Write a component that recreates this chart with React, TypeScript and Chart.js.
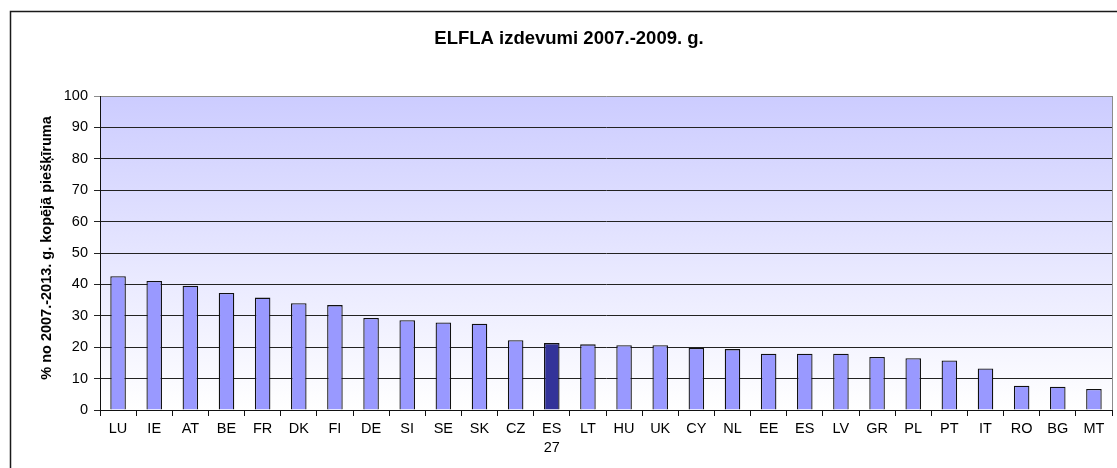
import { useEffect, useRef } from "react";
import { Chart, registerables } from "chart.js";

Chart.register(...registerables);

const chartTitle = "ELFLA izdevumi 2007.-2009. g.";
const yAxisTitle = "% no 2007.-2013. g. kopējā piešķīruma";
const categories: (string | string[])[] = [
  "LU", "IE", "AT", "BE", "FR", "DK", "FI", "DE", "SI", "SE", "SK", "CZ",
  ["ES", "27"], "LT", "HU", "UK", "CY", "NL", "EE", "ES", "LV", "GR", "PL",
  "PT", "IT", "RO", "BG", "MT",
];
const values = [
  42.6, 41.1, 39.6, 37.3, 35.8, 34.0, 33.4, 29.3, 28.6, 27.9, 27.5, 22.2,
  21.3, 20.9, 20.6, 20.6, 19.8, 19.4, 17.9, 17.9, 17.9, 16.9, 16.5, 15.8,
  13.2, 7.7, 7.4, 6.7,
];
const highlightIndex = 12;
const yTicksMin = 0;
const yTicksMax = 100;
const yTicksStep = 10;

const FONT = "'Liberation Sans', Arial, sans-serif";

const decorPlugin = {
  id: "decor",
  beforeDraw(chart: any) {
    const { ctx, chartArea } = chart;
    const { left, top, right, bottom } = chartArea;
    ctx.save();
    ctx.fillStyle = "#ffffff";
    ctx.fillRect(0, 0, chart.width, chart.height);
    const g = ctx.createLinearGradient(0, top, 0, bottom);
    g.addColorStop(0, "#CCCCFF");
    g.addColorStop(1, "#FFFFFF");
    ctx.fillStyle = g;
    ctx.fillRect(left, top, right - left, bottom - top);
    ctx.restore();
  },
  afterDraw(chart: any) {
    const { ctx, chartArea } = chart;
    const { top, right, bottom } = chartArea;
    ctx.save();
    // right border of plot area
    ctx.strokeStyle = "#8c8c8c";
    ctx.lineWidth = 1;
    ctx.beginPath();
    ctx.moveTo(Math.round(right) + 0.5, top);
    ctx.lineTo(Math.round(right) + 0.5, bottom);
    ctx.stroke();
    // outer frame
    ctx.strokeStyle = "#1a1a1a";
    ctx.lineWidth = 1.5;
    ctx.strokeRect(10.5, 11.5, 1300, 700);
    // title
    ctx.fillStyle = "#000";
    ctx.font = `bold 18.5px ${FONT}`;
    ctx.textAlign = "center";
    ctx.textBaseline = "middle";
    ctx.fillText(chartTitle, 569, 39);
    // y axis title
    ctx.translate(47, 248);
    ctx.rotate(-Math.PI / 2);
    ctx.font = `bold 14.5px ${FONT}`;
    ctx.fillText(yAxisTitle, 0, 0);
    ctx.restore();
  },
};

export default function App() {
  const ref = useRef<HTMLCanvasElement | null>(null);

  useEffect(() => {
    const canvas = ref.current;
    if (!canvas) return;
    const chart = new Chart(canvas, {
      type: "bar",
      data: {
        labels: categories,
        datasets: [
          {
            data: values,
            backgroundColor: values.map((_, i) => (i === highlightIndex ? "#333399" : "#9999FF")),
            borderColor: "#111111",
            borderWidth: 1.3,
            barPercentage: 0.43,
            categoryPercentage: 1,
          },
        ],
      },
      options: {
        responsive: false,
        animation: false,
        devicePixelRatio: 1,
        layout: { padding: { top: 96, left: 0, right: 5, bottom: 0 } },
        plugins: {
          legend: { display: false },
          title: { display: false },
          tooltip: { enabled: false },
        },
        scales: {
          x: {
            grid: {
              offset: true,
              drawOnChartArea: false,
              drawTicks: true,
              tickLength: 6,
              color: "#111",
            },
            border: { display: true, color: "#111", width: 1 },
            ticks: {
              color: "#000",
              font: { family: FONT, size: 14.5, lineHeight: 1.3 },
              padding: 4,
              maxRotation: 0,
              autoSkip: false,
            },
            afterFit: (s: any) => {
              s.height = 58;
            },
          },
          y: {
            min: yTicksMin,
            max: yTicksMax,
            grid: {
              color: (c: any) => (c.tick && c.tick.value === yTicksMax ? "#8c8c8c" : "#222"),
              tickLength: 6,
              drawTicks: true,
            },
            border: { display: true, color: "#111", width: 1 },
            ticks: {
              stepSize: yTicksStep,
              color: "#000",
              font: { family: FONT, size: 14.5 },
              padding: 6,
            },
            afterFit: (s: any) => {
              s.width = 100;
            },
          },
        },
      },
      plugins: [decorPlugin],
    });
    return () => chart.destroy();
  }, []);

  return (
    <canvas
      ref={ref}
      width={1117}
      height={468}
      style={{ position: "absolute", left: 0, top: 0, width: 1117, height: 468 }}
    />
  );
}
